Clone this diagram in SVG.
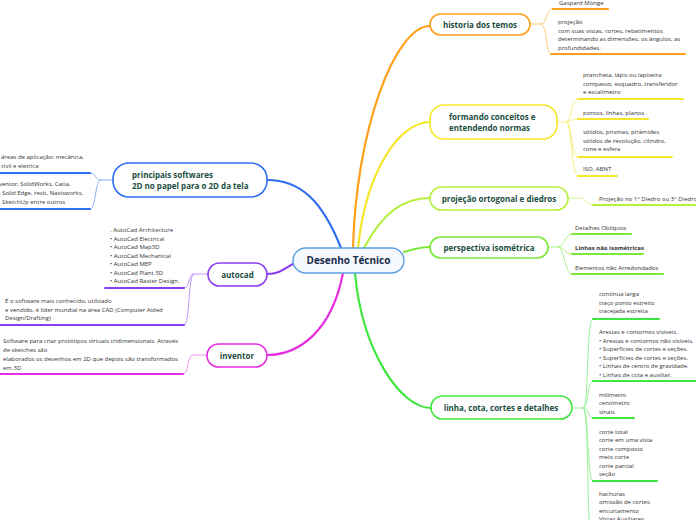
<svg xmlns="http://www.w3.org/2000/svg" width="696" height="520" viewBox="0 0 696 520">
<style>
text{font-family:"Open Sans","Noto Sans","Liberation Sans",sans-serif}
.leaf{font-size:6px;fill:#333}
.topic{font-size:8px;font-weight:bold;fill:#1b4d3e}
.node{fill:#fff;stroke-width:1.6}
.main{fill:none;stroke-width:2.2;stroke-linecap:round}
.sub{fill:none;stroke-width:0.9}
.ul{stroke-width:2;stroke-linecap:round}
</style>
<rect width="696" height="520" fill="#fff"/>
<g id="connectors">
<path class="main" stroke="#ff9f1a" d="M353,248 C356,130 395,26 430,26"/>
<path class="main" stroke="#f5e62a" d="M358,248 C366,170 400,122 430,122"/>
<path class="main" stroke="#b6ef3c" d="M364,248 C382,214 402,198 430,198"/>
<path class="main" stroke="#7be83a" d="M404,252 C414,249 420,247 430,247"/>
<path class="main" stroke="#3ee63e" d="M355,273 C362,350 400,408 431,408"/>
<path class="main" stroke="#2f6ef0" d="M341,248 C322,200 300,180 267,180"/>
<path class="main" stroke="#8a3cf0" d="M293,264 C285,268 280,274 267,274"/>
<path class="main" stroke="#e62ee0" d="M343,273 C332,330 300,355 267,355"/>
<path class="sub" stroke="#ffc566" d="M530,24 H541 C547,24 546,9 553,9 M541,24 C547,24 546,54 551,54"/>
<path class="sub" stroke="#f5ec70" d="M557,122 H566 C572,122 571,99 578,99 M566,122 C571,122 572,119 578,119 M566,122 C572,122 571,157 578,157 M566,122 C572,122 571,176 578,176"/>
<path class="sub" stroke="#cdf57a" d="M568,198 H580 C586,198 587,205 593,205"/>
<path class="sub" stroke="#a5f07a" d="M548,247 H558 C564,247 565,234 572,234 M558,247 C564,247 565,254 572,254 M558,247 C564,247 565,274 572,274"/>
<path class="sub" stroke="#8ef08e" d="M572,408 H583 C589,408 586,319 593,319 M583,408 C589,408 587,381 593,381 M583,408 C589,408 588,418 593,418 M583,408 C589,408 587,481 593,481 M583,408 C589,408 587,520 590,525"/>
<path class="sub" stroke="#7fa6f5" d="M113,180 H101 C95,180 96,173 90,173 M101,180 C95,180 96,209 90,209"/>
<path class="sub" stroke="#b48af5" d="M208,274 H194 C188,274 190,288 184,288 M194,274 C188,274 190,325 184,325"/>
<path class="sub" stroke="#f28aee" d="M207,355 H193 C187,355 189,374 183,374"/>
</g>
<g id="center">
<rect x="293" y="248" width="111" height="25" rx="12.5" fill="#f5f9fd" stroke="#5aa0e0" stroke-width="1.4"/>
<text x="348.5" y="264" text-anchor="middle" font-size="10" font-weight="bold" fill="#1a2b4c">Desenho Técnico</text>
</g>
<g id="historia">
<rect class="node" x="430" y="14" width="100" height="21" rx="10.5" stroke="#ff9f1a"/>
<text class="topic" x="480" y="27.5" text-anchor="middle">historia dos temos</text>
</g>
<g id="historia-leaves">
<text class="leaf" x="559" y="5">Gaspard Monge</text>
<line class="ul" x1="553" y1="9" x2="608" y2="9" stroke="#ff9f1a"/>
<text class="leaf" x="558" y="24">projeção</text>
<text class="leaf" x="558" y="32.5">com suas vistas, cortes, rebatimentos</text>
<text class="leaf" x="558" y="41">determinando as dimensões, os ângulos, as</text>
<text class="leaf" x="558" y="49.5">profundidades.</text>
<line class="ul" x1="551" y1="54" x2="685" y2="54" stroke="#ff9f1a"/>
</g>
<g id="formando">
<rect class="node" x="430" y="105" width="127" height="34" rx="14" stroke="#f5e62a"/>
<text class="topic" x="449" y="120">formando conceitos e</text>
<text class="topic" x="449" y="131">entendendo normas</text>
</g>
<g id="formando-leaves">
<text class="leaf" x="583" y="77">prancheta, lápis ou lapiseira</text>
<text class="leaf" x="583" y="85.5">compasso, esquadro, transferidor</text>
<text class="leaf" x="583" y="94">e escalímetro</text>
<line class="ul" x1="578" y1="99" x2="683" y2="99" stroke="#f5e62a"/>
<text class="leaf" x="583" y="114.5">pontos, linhas, planos</text>
<line class="ul" x1="578" y1="119" x2="648" y2="119" stroke="#f5e62a"/>
<text class="leaf" x="583" y="134">sólidos, prismas, pirâmides</text>
<text class="leaf" x="583" y="142.5">sólidos de revolução, cilindro,</text>
<text class="leaf" x="583" y="151">cone e esfera</text>
<line class="ul" x1="578" y1="157" x2="672" y2="157" stroke="#f5e62a"/>
<text class="leaf" x="583" y="171">ISO, ABNT</text>
<line class="ul" x1="578" y1="176" x2="617" y2="176" stroke="#f5e62a"/>
</g>
<g id="projecao">
<rect class="node" x="430" y="187" width="138" height="23" rx="11.5" stroke="#b6ef3c"/>
<text class="topic" x="499" y="201.5" text-anchor="middle">projeção ortogonal e diedros</text>
</g>
<g id="projecao-leaves">
<text class="leaf" x="599" y="200.5">Projeção no 1° Diedro ou 3° Diedro</text>
<line class="ul" x1="593" y1="205" x2="697" y2="205" stroke="#b6ef3c"/>
</g>
<g id="perspectiva">
<rect class="node" x="430" y="237" width="118" height="21" rx="10.5" stroke="#7be83a"/>
<text class="topic" x="489" y="250.5" text-anchor="middle">perspectiva isométrica</text>
</g>
<g id="perspectiva-leaves">
<text class="leaf" x="575" y="229.5">Detalhes Oblíquos</text>
<line class="ul" x1="572" y1="234" x2="631" y2="234" stroke="#7be83a"/>
<text class="leaf" x="575" y="249.5" font-weight="bold">Linhas não isométricas</text>
<line class="ul" x1="572" y1="254" x2="643" y2="254" stroke="#7be83a"/>
<text class="leaf" x="575" y="269.5">Elementos não Arredondados</text>
<line class="ul" x1="572" y1="274" x2="663" y2="274" stroke="#7be83a"/>
</g>
<g id="linha">
<rect class="node" x="431" y="396" width="141" height="23" rx="11.5" stroke="#3ee63e"/>
<text class="topic" x="501" y="410.5" text-anchor="middle">linha, cota, cortes e detalhes</text>
</g>
<g id="linha-leaves">
<text class="leaf" x="599" y="296">contínua larga</text>
<text class="leaf" x="599" y="304.5">traço ponto estreito</text>
<text class="leaf" x="599" y="313">tracejada estreita</text>
<line class="ul" x1="593" y1="319" x2="659" y2="319" stroke="#3ee63e"/>
<text class="leaf" x="599" y="334">Arestas e contornos visíveis.</text>
<text class="leaf" x="599" y="342.5">• Arestas e contornos não visíveis.</text>
<text class="leaf" x="599" y="351">• Superfícies de cortes e seções.</text>
<text class="leaf" x="599" y="359.5">• Superfícies de cortes e seções.</text>
<text class="leaf" x="599" y="368">• Linhas de centro de gravidade.</text>
<text class="leaf" x="599" y="376.5">• Linhas de cota e auxiliar.</text>
<line class="ul" x1="593" y1="381" x2="697" y2="381" stroke="#3ee63e"/>
<text class="leaf" x="599" y="396.5">milímetro</text>
<text class="leaf" x="599" y="405">centímetro</text>
<text class="leaf" x="599" y="413.5">sinais</text>
<line class="ul" x1="593" y1="418" x2="634" y2="418" stroke="#3ee63e"/>
<text class="leaf" x="599" y="433.5">corte total</text>
<text class="leaf" x="599" y="442">corte em uma vista</text>
<text class="leaf" x="599" y="450.5">corte composto</text>
<text class="leaf" x="599" y="459">meio corte</text>
<text class="leaf" x="599" y="467.5">corte parcial</text>
<text class="leaf" x="599" y="476">seção</text>
<line class="ul" x1="593" y1="481" x2="657" y2="481" stroke="#3ee63e"/>
<text class="leaf" x="599" y="495.5">hachuras</text>
<text class="leaf" x="599" y="504">omissão de cortes</text>
<text class="leaf" x="599" y="512.5">encurtamento</text>
<text class="leaf" x="599" y="521">Vistas Auxiliares</text>
</g>
<g id="principais">
<rect class="node" x="113" y="163" width="154" height="34" rx="16" stroke="#2f6ef0"/>
<text class="topic" x="132" y="178">principais softwares</text>
<text class="topic" x="132" y="189">2D no papel para o 2D da tela</text>
</g>
<g id="principais-leaves">
<text class="leaf" x="1" y="159">áreas de aplicação: mecânica,</text>
<text class="leaf" x="1" y="168">civil e eletrica</text>
<line class="ul" x1="-2" y1="173" x2="90" y2="173" stroke="#2f6ef0"/>
<text class="leaf" x="-1" y="186">ventor, SolidWorks, Catia,</text>
<text class="leaf" x="-1" y="195">, Solid Edge, revit, Navisworks,</text>
<text class="leaf" x="-1" y="204">, SketchUp entre outros</text>
<line class="ul" x1="-2" y1="209" x2="90" y2="209" stroke="#2f6ef0"/>
</g>
<g id="autocad">
<rect class="node" x="208" y="263" width="59" height="23" rx="11.5" stroke="#8a3cf0"/>
<text class="topic" x="237.5" y="277.5" text-anchor="middle">autocad</text>
</g>
<g id="autocad-leaves">
<text class="leaf" x="110" y="232">. AutoCad Architecture</text>
<text class="leaf" x="110" y="240.5">• AutoCad Electrical</text>
<text class="leaf" x="110" y="249">• AutoCad Map3D</text>
<text class="leaf" x="110" y="257.5">• AutoCad Mechanical</text>
<text class="leaf" x="110" y="266">• AutoCad MEP</text>
<text class="leaf" x="110" y="274.5">• AutoCad Plant 3D</text>
<text class="leaf" x="110" y="283">• AutoCad Raster Design.</text>
<line class="ul" x1="105" y1="288" x2="184" y2="288" stroke="#8a3cf0"/>
<text class="leaf" x="5" y="303">É o software mais conhecido, utilizado</text>
<text class="leaf" x="5" y="311.5">e vendido, é líder mundial na área CAD (Computer Aided</text>
<text class="leaf" x="5" y="320">Design/Drafting)</text>
<line class="ul" x1="-2" y1="325" x2="184" y2="325" stroke="#8a3cf0"/>
</g>
<g id="inventor">
<rect class="node" x="207" y="344" width="60" height="23" rx="11.5" stroke="#e62ee0"/>
<text class="topic" x="237" y="358.5" text-anchor="middle">inventor</text>
</g>
<g id="inventor-leaves">
<text class="leaf" x="3" y="343">Software para criar protótipos virtuais tridimensionais. Através</text>
<text class="leaf" x="3" y="351.5">de sketches são</text>
<text class="leaf" x="3" y="361">elaborados os desenhos em 2D que depois são transformados</text>
<text class="leaf" x="3" y="369.5">em 3D</text>
<line class="ul" x1="-2" y1="374" x2="183" y2="374" stroke="#e62ee0"/>
</g>
</svg>
